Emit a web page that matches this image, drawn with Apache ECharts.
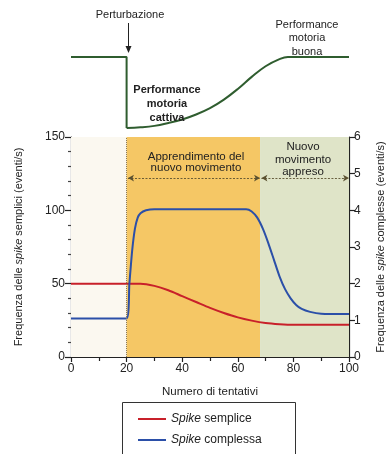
<!DOCTYPE html>
<html><head><meta charset="utf-8">
<script src="https://cdn.jsdelivr.net/npm/echarts@6/dist/echarts.min.js"></script>
<style>html,body{margin:0;padding:0;background:#fff}#c{width:389px;height:454px}</style>
</head><body><div id="c"></div>
<script>
// Performance (top panel, 0 = cattiva, 1 = buona)
const perfStep = [[0,1],[20,1],[20,0]];
const perfCurve = [[20,0],[25,0.01],[30,0.03],[35,0.07],[40,0.12],[45,0.19],[50,0.28],[55,0.4],[60,0.55],[65,0.72],[70,0.87],[75,0.97],[78,1],[100,1]];
// Spike semplici (left axis, eventi/s)
const spikeSemplice = [[0,50],[20,50],[25,50],[30,48.5],[35,45.5],[40,41.5],[45,37.5],[50,33.5],[55,30],[60,27],[65,24.8],[70,23.2],[75,22.4],[80,22],[100,22]];
// Spike complesse (right axis, eventi/s)
const spikeComplessa = [[0,1.05],[20,1.05],[21,2.0],[22,2.9],[23,3.5],[24,3.8],[25,3.92],[27,4.0],[30,4.03],[63,4.03],[65,3.97],[67,3.8],[69,3.5],[71,3.1],[73,2.65],[75,2.2],[77,1.85],[79,1.6],[81,1.42],[83,1.31],[86,1.23],[90,1.18],[100,1.17]];
const phases = [[0,20,'#fbf8f0'],[20,68,'#f5c765'],[68,100,'#dfe4c8']];
const xTicks = {min:0,max:100,interval:20};
const yLeft = {min:0,max:150,interval:50};
const yRight = {min:0,max:6,interval:1};

const F = "'Liberation Sans', Arial, sans-serif";
const chart = echarts.init(document.getElementById('c'));
const italicRich = {i:{fontStyle:'italic',fontFamily:F,fontSize:11,color:'#222'}};
chart.setOption({
  animation:false,
  backgroundColor:'#fff',
  textStyle:{fontFamily:F},
  grid:[
    {left:71,right:40,top:57,height:71,outerBoundsMode:'none',containLabel:false},
    {left:71,right:40,top:137,bottom:97,outerBoundsMode:'none',containLabel:false}
  ],
  xAxis:[
    {gridIndex:0,type:'value',min:0,max:100,show:false},
    {gridIndex:1,type:'value',min:xTicks.min,max:xTicks.max,interval:xTicks.interval,
     axisLine:{lineStyle:{color:'#222',width:1.2}},
     axisTick:{length:5,lineStyle:{color:'#222',width:1.2}},
     minorTick:{show:true,splitNumber:2,length:4,lineStyle:{color:'#222',width:1.2}},
     splitLine:{show:false},
     axisLabel:{color:'#222',fontSize:12,margin:6,fontFamily:F},
     name:'Numero di tentativi',nameLocation:'middle',nameGap:29,
     nameTextStyle:{color:'#222',fontSize:11.5,fontFamily:F}}
  ],
  yAxis:[
    {gridIndex:0,type:'value',min:0,max:1,show:false},
    {gridIndex:1,type:'value',min:yLeft.min,max:yLeft.max,interval:yLeft.interval,
     axisLine:{show:true,lineStyle:{color:'#222',width:1.2}},
     axisTick:{show:true,length:6,lineStyle:{color:'#222',width:1.2}},
     minorTick:{show:true,splitNumber:5,length:3,lineStyle:{color:'#444',width:1.2}},
     splitLine:{show:false},
     axisLabel:{color:'#222',fontSize:12,margin:6,fontFamily:F},
     name:'Frequenza delle {i|spike} semplici (eventi/s)',nameLocation:'middle',nameGap:47,nameRotate:90,
     nameTextStyle:{color:'#222',fontSize:11,fontFamily:F,rich:italicRich}},
    {gridIndex:1,type:'value',position:'right',min:yRight.min,max:yRight.max,interval:yRight.interval,
     axisLine:{show:true,lineStyle:{color:'#222',width:1.2}},
     axisTick:{show:true,length:6,lineStyle:{color:'#222',width:1.2}},
     splitLine:{show:false},
     axisLabel:{color:'#222',fontSize:12,margin:5,fontFamily:F},
     name:'Frequenza delle {i|spike} complesse (eventi/s)',nameLocation:'middle',nameGap:26,nameRotate:90,
     nameTextStyle:{color:'#222',fontSize:11,fontFamily:F,rich:italicRich}}
  ],
  legend:{
    orient:'vertical',left:133,top:408,itemWidth:28,itemHeight:2,itemGap:9,icon:'rect',
    data:['Spike semplice','Spike complessa'],
    formatter:function(n){return n.replace('Spike','{i|Spike}');},
    textStyle:{color:'#222',fontSize:12,fontFamily:F,rich:{i:{fontStyle:'italic',fontSize:12,fontFamily:F,color:'#222'}}}
  },
  graphic:[
    {type:'rect',z:100,shape:{x:122.5,y:402.5,width:173,height:80},style:{fill:'none',stroke:'#333',lineWidth:1}},
    {type:'text',z:100,style:{text:'Perturbazione',x:130,y:15,textAlign:'center',textVerticalAlign:'middle',fill:'#222',font:'11px '+F}},
    {type:'line',z:100,shape:{x1:128.5,y1:23,x2:128.5,y2:50},style:{stroke:'#222',lineWidth:1}},
    {type:'polygon',z:100,shape:{points:[[125.5,46],[131.5,46],[128.5,53]]},style:{fill:'#222'}},
    {type:'text',z:100,style:{text:'Performance\nmotoria\ncattiva',x:167,y:83,textAlign:'center',fill:'#222',font:'bold 11px '+F,lineHeight:14}},
    {type:'text',z:100,style:{text:'Performance\nmotoria\nbuona',x:307,y:18,textAlign:'center',fill:'#222',font:'11px '+F,lineHeight:13.5}},
    {type:'text',z:100,style:{text:'Apprendimento del\nnuovo movimento',x:196,y:151,textAlign:'center',fill:'#222',font:'11.5px '+F,lineHeight:11.5}},
    {type:'text',z:100,style:{text:'Nuovo\nmovimento\nappreso',x:303,y:141,textAlign:'center',fill:'#222',font:'11.5px '+F,lineHeight:12.5}}
  ],
  series:[
    {type:'line',xAxisIndex:0,yAxisIndex:0,data:perfStep,symbol:'none',lineStyle:{color:'#2f5d2f',width:2},silent:true},
    {type:'line',xAxisIndex:0,yAxisIndex:0,data:perfCurve,symbol:'none',smooth:0.4,lineStyle:{color:'#2f5d2f',width:2},silent:true},
    {type:'line',name:'bands',xAxisIndex:1,yAxisIndex:1,data:[],silent:true,
     markArea:{silent:true,data:phases.map(p=>[{xAxis:p[0],itemStyle:{color:p[2]}},{xAxis:p[1]}])},
     markLine:{silent:true,symbol:['none','none'],label:{show:false},
       lineStyle:{color:'#8a7a55',type:'dotted',width:1},data:[{xAxis:20}]}},
    {type:'line',name:'arrows',xAxisIndex:1,yAxisIndex:1,data:[],silent:true,
     markLine:{silent:true,symbol:['arrow','arrow'],symbolSize:[5,6],label:{show:false},
       lineStyle:{color:'#5a5030',type:[2,1.5],width:0.9},
       data:[[{coord:[20.5,122]},{coord:[68,122]}],[{coord:[68.5,122]},{coord:[100,122]}]]}},
    {type:'line',name:'Spike semplice',xAxisIndex:1,yAxisIndex:1,data:spikeSemplice,symbol:'none',smooth:0.3,
     lineStyle:{color:'#c8202a',width:2},itemStyle:{color:'#c8202a'}},
    {type:'line',name:'Spike complessa',xAxisIndex:1,yAxisIndex:2,data:spikeComplessa,symbol:'none',smooth:0.2,
     lineStyle:{color:'#2b4fa8',width:2},itemStyle:{color:'#2b4fa8'}}
  ]
});
</script></body></html>
